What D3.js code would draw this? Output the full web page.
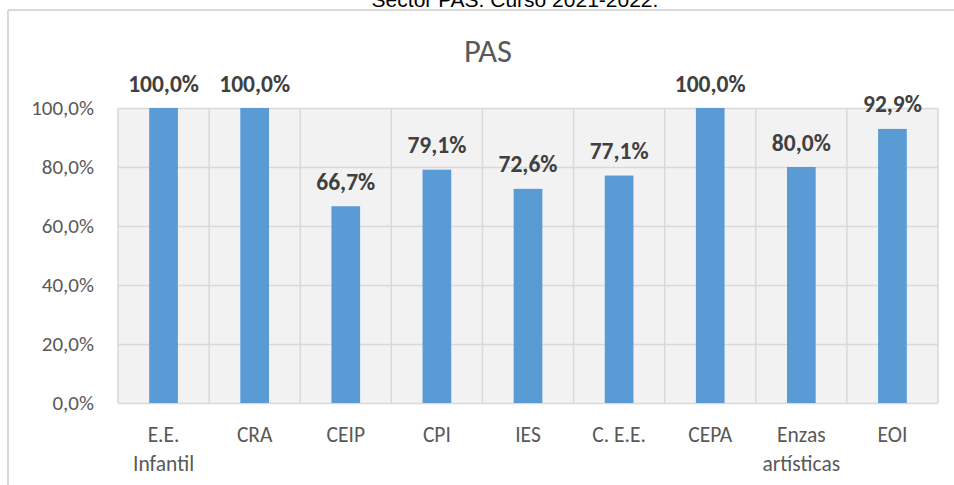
<!DOCTYPE html>
<html>
<head>
<meta charset="utf-8">
<script src="https://cdn.jsdelivr.net/npm/d3@7"></script>
<style>
  html, body { margin: 0; padding: 0; background: #fff; }
  svg { display: block; }
</style>
</head>
<body>
<svg id="chart" width="954" height="485"></svg>
<script>
// Share of PAS staff per type of centre
const categories = [["E.E.", "Infantil"], ["CRA"], ["CEIP"], ["CPI"], ["IES"], ["C. E.E."], ["CEPA"], ["Enzas", "artísticas"], ["EOI"]];
const values = [100.0, 100.0, 66.7, 79.1, 72.6, 77.1, 100.0, 80.0, 92.9];
const yTicks = [0, 20, 40, 60, 80, 100];
const pageTitle = "Sector PAS. Curso 2021-2022.";
const chartTitle = "PAS";

const fmt = v => v.toFixed(1).replace(".", ",") + "%";
const font = "Carlito, Calibri, Lato, sans-serif";

const svg = d3.select("#chart");
const plot = { left: 118, right: 938, top: 108, bottom: 403 };

// Heading above the chart frame
svg.append("text")
  .attr("x", 515).attr("y", 7)
  .attr("text-anchor", "middle")
  .attr("font-family", "Liberation Sans, Arial, sans-serif")
  .attr("font-size", 21)
  .attr("fill", "#000")
  .text(pageTitle);

// Chart frame (top and left edges visible)
svg.append("line").attr("x1", 8).attr("x2", 954).attr("y1", 10).attr("y2", 10)
  .attr("stroke", "#d9d9d9").attr("stroke-width", 2);
svg.append("line").attr("x1", 8).attr("x2", 8).attr("y1", 10).attr("y2", 485)
  .attr("stroke", "#d9d9d9").attr("stroke-width", 2);

const keys = categories.map(c => c.join(" "));
const x = d3.scaleBand().domain(keys).range([plot.left, plot.right]).paddingInner(0).paddingOuter(0);
const y = d3.scaleLinear().domain([0, 100]).range([plot.bottom, plot.top]);

// Plot background
svg.append("rect")
  .attr("x", plot.left).attr("y", plot.top)
  .attr("width", plot.right - plot.left).attr("height", plot.bottom - plot.top)
  .attr("fill", "#f2f2f2");

// Horizontal gridlines and y labels
const yAxis = d3.axisLeft(y).tickValues(yTicks).tickFormat(fmt)
  .tickSize(-(plot.right - plot.left)).tickPadding(24);
const gy = svg.append("g").attr("transform", `translate(${plot.left},0)`).call(yAxis);
gy.select(".domain").remove();
gy.selectAll(".tick line").attr("stroke", "#d9d9d9").attr("stroke-width", 1.5);
gy.selectAll(".tick text")
  .attr("font-family", font).attr("font-size", 21).attr("fill", "#595959");

// Vertical gridlines at category boundaries
const bounds = keys.map(k => x(k)).concat([plot.right]);
svg.append("g").selectAll("line").data(bounds).join("line")
  .attr("x1", d => d).attr("x2", d => d)
  .attr("y1", plot.top).attr("y2", plot.bottom)
  .attr("stroke", "#d9d9d9").attr("stroke-width", 1.5);

// Bars
const barW = x.bandwidth() * 0.315;
svg.append("g").selectAll("rect").data(values).join("rect")
  .attr("x", (d, i) => x(keys[i]) + x.bandwidth() / 2 - barW / 2)
  .attr("y", d => y(d))
  .attr("width", barW)
  .attr("height", d => y(0) - y(d))
  .attr("fill", "#5b9bd5");

// Value labels
svg.append("g").selectAll("text").data(values).join("text")
  .attr("x", (d, i) => x(keys[i]) + x.bandwidth() / 2)
  .attr("y", d => y(d) - 16.5)
  .attr("text-anchor", "middle")
  .attr("font-family", font).attr("font-size", 23.5).attr("font-weight", "bold")
  .attr("fill", "#404040")
  .text(d => fmt(d));

// Category labels
const xl = svg.append("g").selectAll("text").data(categories).join("text")
  .attr("x", (d, i) => x(keys[i]) + x.bandwidth() / 2)
  .attr("y", 442)
  .attr("text-anchor", "middle")
  .attr("font-family", font).attr("font-size", 21.5).attr("fill", "#595959");
xl.selectAll("tspan").data(d => d).join("tspan")
  .attr("x", function() { return d3.select(this.parentNode).attr("x"); })
  .attr("dy", (d, i) => i === 0 ? 0 : 29)
  .text(d => d);

// Chart title
svg.append("text")
  .attr("x", 488).attr("y", 62)
  .attr("text-anchor", "middle")
  .attr("font-family", font).attr("font-size", 32.5)
  .attr("fill", "#595959")
  .text(chartTitle);
</script>
</body>
</html>
